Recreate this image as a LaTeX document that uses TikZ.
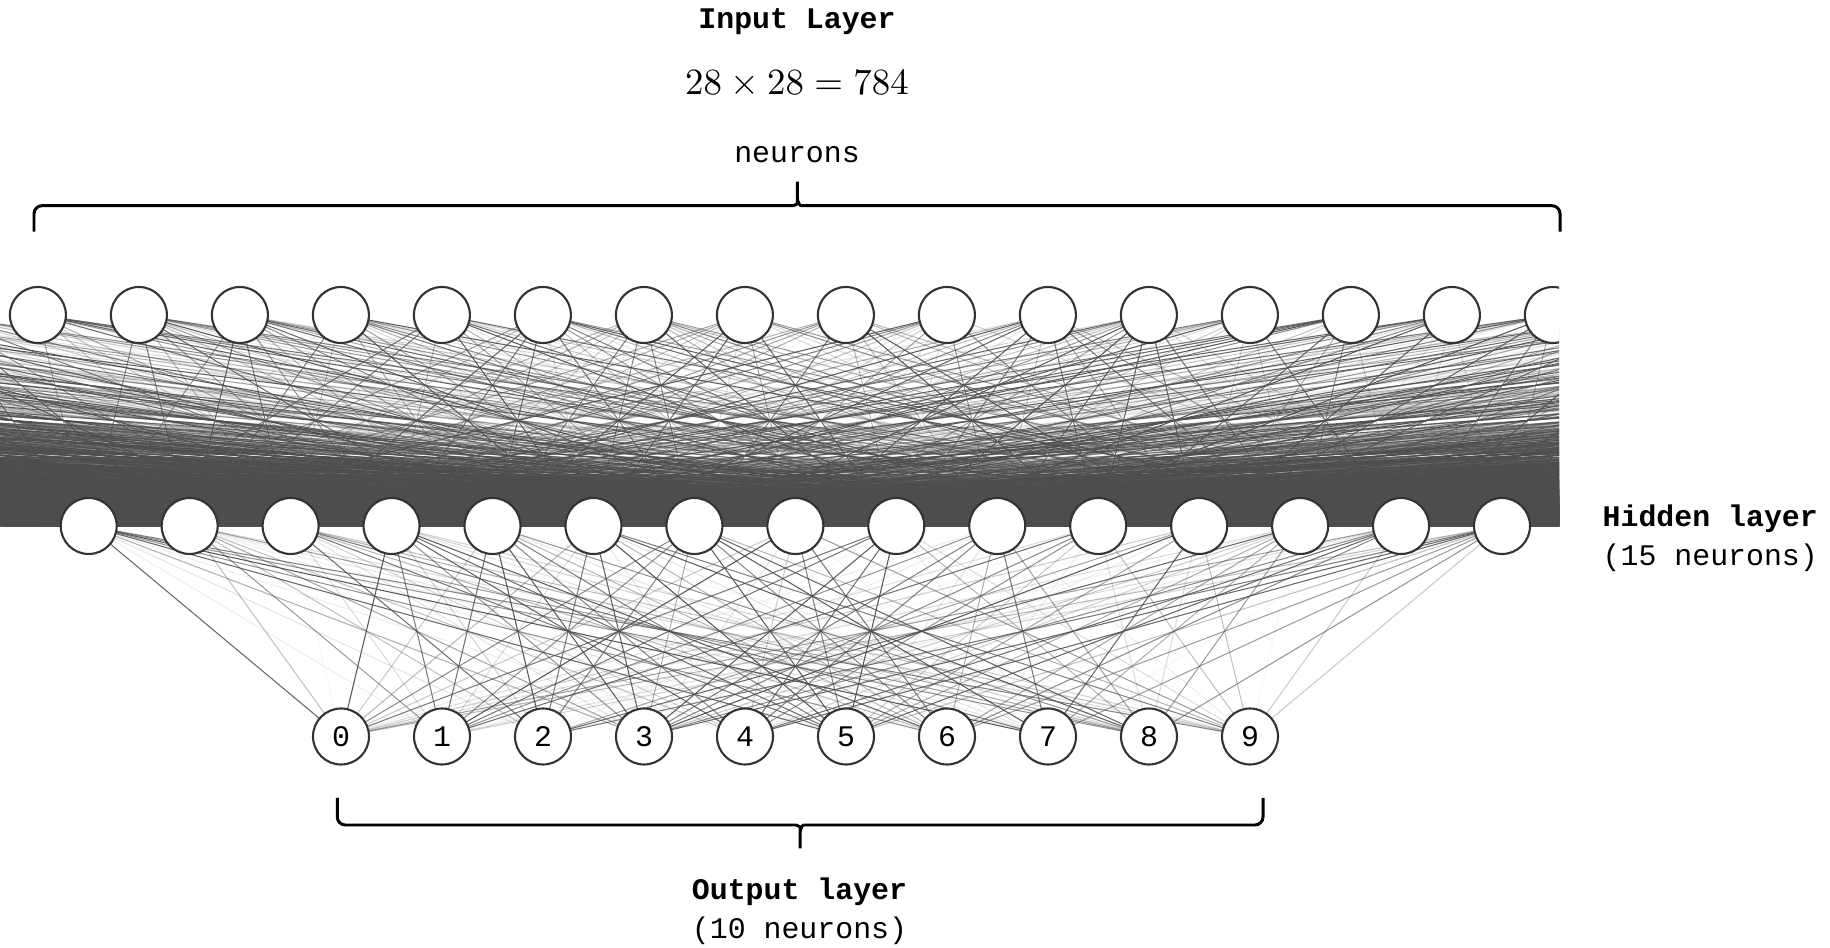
\documentclass[tikz,border=0pt]{standalone}
\usepackage{fontspec}
\setmonofont{Liberation Mono}
\usetikzlibrary{positioning,backgrounds}

\definecolor{wiregray}{HTML}{4D4D4D}
\definecolor{rimgray}{HTML}{333333}

\begin{document}
\begin{tikzpicture}[
		x=1cm, y=-1cm,
		neuron/.style={circle, draw=rimgray, line width=0.6pt, fill=white, minimum size=5.6mm, inner sep=0pt, font=\ttfamily\fontsize{8.5}{10}\selectfont},
		wires/.style={color=wiregray, line width=0.3pt},
		layerbrace/.style={draw, line width=0.85pt, rounded corners=0.8mm},
		title/.style={anchor=base, inner sep=0pt, font=\ttfamily\bfseries\fontsize{8.5}{10}\selectfont},
		note/.style={anchor=base, inner sep=0pt, font=\ttfamily\fontsize{8.5}{10}\selectfont}
	]
	\useasboundingbox (0,0) rectangle (18.3,9.48);
	\pgfmathsetseed{7}

	% Input layer (784 neurons, only the middle ones are visible)
	\begin{scope}
		\clip (0,0) rectangle (15.59,6);
		\foreach \k in {0,...,783}
			\node[neuron] (in-\k) at ({7.954+(\k-391.5)*1.01}, 3.15) {};
	\end{scope}

	% Hidden layer
	\foreach \j in {0,...,14}
		\node[neuron] (hid-\j) at ({0.887+1.0095*\j}, 5.26) {};

	% Output layer
	\foreach \d in {0,...,9}
		\node[neuron] (out-\d) at ({3.41+1.01*\d}, 7.365) {\d};

	\begin{scope}[on background layer]
	\begin{scope}[wires]
		% Weights hidden -> output
		\foreach \j in {0,...,14}
			\foreach \d in {0,...,9}{
				\pgfmathsetmacro{\w}{int(rnd*20)/20}
				\draw[draw opacity=\w] (hid-\j.center) -- (out-\d.center);
			}
		% Weights input -> hidden (opacity in 20 steps)
		\clip (0,0) rectangle (15.59,6);
		\foreach \k in {0,...,783}
			\foreach \j in {0,...,14}{
				\pgfmathsetmacro{\w}{int(rnd*20)/20}
				\draw[draw opacity=\w] (in-\k.center) -- (hid-\j.center);
			}
	\end{scope}
	\end{scope}

	% Braces
	\draw[layerbrace] (0.34,2.317) -- (0.34,2.057) -- (7.853,2.057)
		.. controls (7.943,2.057) and (7.973,2.037) .. (7.973,1.957) -- (7.973,1.817)
		(7.973,1.957) .. controls (7.973,2.037) and (8.003,2.057) .. (8.093,2.057)
		-- (15.6,2.057) -- (15.6,2.317);
	\draw[layerbrace] (3.373,7.98) -- (3.373,8.25) -- (7.88,8.25)
		.. controls (7.97,8.25) and (8.0,8.27) .. (8.0,8.35) -- (8.0,8.483)
		(8.0,8.35) .. controls (8.0,8.27) and (8.03,8.25) .. (8.12,8.25)
		-- (12.63,8.25) -- (12.63,7.98);

	% Labels
	\node[title] (in-title) at (7.97,0.283) {Input Layer};
	\node[anchor=base, inner sep=0pt, scale=0.96, font=\fontsize{10.95}{13}\selectfont] (in-size) at (7.97,0.95) {$28\times28=784$};
	\node[note] (in-unit) at (7.97,1.627) {neurons};

	\node[title, anchor=base west] (hid-title) at (16.02,5.267) {Hidden layer};
	\node[note, anchor=base west] (hid-unit) at (16.02,5.66) {(15 neurons)};

	\node[title] (out-title) at (7.995,9.0) {Output layer};
	\node[note] (out-unit) at (7.995,9.39) {(10 neurons)};
\end{tikzpicture}
\end{document}
